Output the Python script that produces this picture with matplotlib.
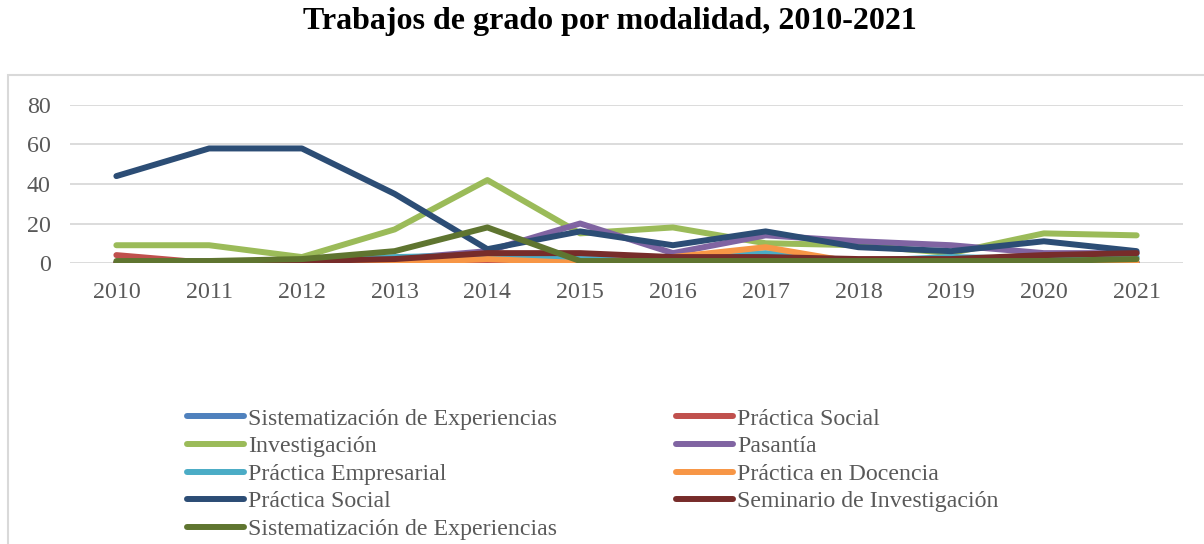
import matplotlib
matplotlib.use("Agg")
import matplotlib.pyplot as plt
from matplotlib.patches import Rectangle

# Data
years = ["2010", "2011", "2012", "2013", "2014", "2015", "2016", "2017", "2018", "2019", "2020", "2021"]
sist_exp_1 = [0, 0, 0, 0, 0, 0, 0, 0, 0, 0, 0, 0]
practica_social_1 = [4, 0, 0, 0, 0, 0, 0, 0, 0, 0, 0, 0]
investigacion = [9, 9, 3, 17, 42, 15, 18, 10, 9, 5, 15, 14]
pasantia = [0, 1, 1, 2, 6, 20, 5, 14, 11, 9, 5, 5]
practica_empresarial = [0, 0, 1, 3, 4, 2, 2, 5, 1, 3, 2, 3]
practica_docencia = [0, 0, 0, 0, 2, 0, 3, 8, 0, 0, 1, 0]
practica_social_2 = [44, 58, 58, 35, 7, 16, 9, 16, 8, 6, 11, 6]
seminario = [0, 0, 1, 2, 5, 5, 3, 3, 2, 2, 4, 5]
sist_exp_2 = [1, 1, 2, 6, 18, 1, 1, 1, 1, 1, 1, 2]

labels = ["Sistematización de Experiencias", "Práctica Social", "Investigación", "Pasantía",
          "Práctica Empresarial", "Práctica en Docencia", "Práctica Social",
          "Seminario de Investigación", "Sistematización de Experiencias"]
series = [sist_exp_1, practica_social_1, investigacion, pasantia, practica_empresarial,
          practica_docencia, practica_social_2, seminario, sist_exp_2]
colors = ["#4F81BD", "#C0504D", "#9BBB59", "#8064A2", "#4BACC6",
          "#F79646", "#2C4D75", "#772C2A", "#5F7530"]

plt.rcParams["font.family"] = ["Liberation Serif", "DejaVu Serif"]
text_grey = "#595959"
grid_grey = "#D9D9D9"

fig = plt.figure(figsize=(12.04, 5.44), dpi=100)

# chart area border
fig.patches.append(Rectangle((8 / 1204, -0.1), 1.2, 1 - 75 / 544 + 0.1,
                             transform=fig.transFigure, fill=False,
                             edgecolor=grid_grey, linewidth=1.5))

fig.text(610 / 1204, 1 - 21 / 544, "Trabajos de grado por modalidad, 2010-2021",
         ha="center", va="center", fontsize=23, fontweight="bold", color="black")

ax = fig.add_axes([70 / 1204, 1 - 263 / 544, 1113 / 1204, 158 / 544])
x = list(range(len(years)))
handles = []
for vals, lab, col in zip(series, labels, colors):
    h, = ax.plot(x, vals, color=col, linewidth=4.3, label=lab,
                 solid_capstyle="round", solid_joinstyle="round")
    handles.append(h)

ax.set_xlim(-0.5, len(years) - 0.5)
ax.set_ylim(0, 80)
ax.set_yticks([0, 20, 40, 60, 80])
ax.set_xticks(x)
ax.set_xticklabels(years)
ax.yaxis.grid(True, color=grid_grey, linewidth=1.3)
ax.set_axisbelow(True)
for s in ax.spines.values():
    s.set_visible(False)
ax.tick_params(axis="both", length=0, labelsize=17.3, labelcolor=text_grey)
ax.tick_params(axis="x", pad=14)
ax.tick_params(axis="y", pad=14)

order = [0, 2, 4, 6, 8, 1, 3, 5, 7]
leg = fig.legend([handles[i] for i in order], [labels[i] for i in order],
                 loc="upper left", bbox_to_anchor=(187 / 1204, 1 - 408 / 544),
                 ncol=2, frameon=False, fontsize=17.2, handlelength=2.37,
                 handletextpad=0.17, labelspacing=0.245, columnspacing=5.0,
                 borderpad=0, borderaxespad=0)
for t in leg.get_texts():
    t.set_color(text_grey)

fig.savefig("out.png", dpi=100)
